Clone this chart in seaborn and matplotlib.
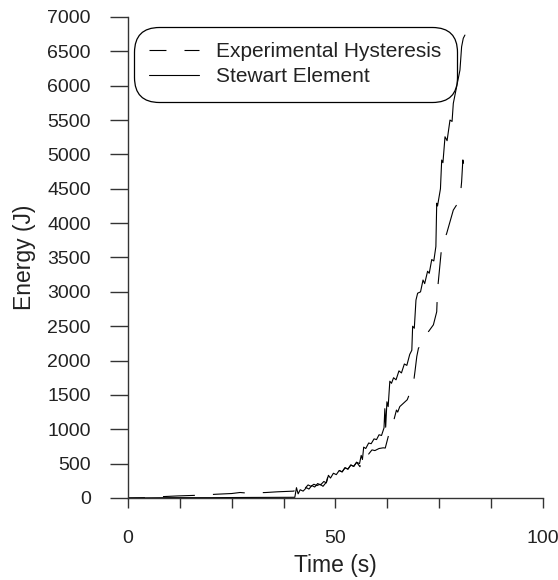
import numpy as np
import pandas as pd
import seaborn as sns
import matplotlib.pyplot as plt
from matplotlib.ticker import MultipleLocator

# Experimental Hysteresis (dashed)
exp_t = [0, 5, 8.4, 12, 17, 21.4, 25, 27, 29, 33.3, 36, 38, 40, 40.5, 41, 41.6,
         42.5, 43.4, 44.1, 44.8, 45.5, 46.3, 47, 47.8, 48.2, 48.7, 49.5, 50.2,
         50.9, 51.6, 52.3, 53, 53.7, 54.4, 55.1, 55.9, 56.5, 57.2, 58, 58.8,
         59.5, 60.5, 61.5, 62, 63, 63.5, 64.7, 65, 65.5, 67.3, 68.2, 68.9, 69.2,
         69.6, 70, 71.3, 72.4, 73.6, 74.4, 74.6, 75.6, 76.8, 78.4, 80, 80.4,
         80.7, 81.2]
exp_e = [0, 5, 20, 30, 40, 55, 65, 80, 70, 80, 90, 95, 100, 170, 110, 150,
         130, 190, 170, 200, 180, 200, 170, 230, 320, 290, 360, 340,
         400, 380, 440, 420, 480, 460, 520, 455, 600, 670, 640, 700,
         690, 720, 730, 727, 960, 1000, 1280, 1250, 1330, 1430, 1570, 1720, 1860,
         2060, 2180, 2270, 2420, 2520, 2710, 3030, 3660, 3850, 4190, 4340, 4600,
         4920, 4750]

# Stewart Element (solid)
stw_t = [0, 10, 20, 30, 40.2, 40.6, 41.0, 41.5, 42.2, 43, 43.6, 44.3, 45, 45.7,
         46.4, 47.2, 47.8, 48.3, 48.8, 49.5, 50.2, 50.9, 51.6, 52.3, 53, 53.7,
         54.4, 55.1, 55.8, 56.2, 56.5, 56.8, 57.3, 58, 58.6, 59.3, 59.9, 60.5,
         61.1, 61.7, 61.9, 62.1, 62.4, 62.7, 63.1, 63.5, 64, 64.6, 65.3, 65.9,
         66.6, 67.2, 67.9, 68.4, 68.6, 69, 69.4, 69.8, 70.5, 71.1, 71.5, 72.2,
         72.6, 73.2, 73.7, 74.2, 74.4, 74.6, 75.3, 75.6, 75.9, 76.4, 76.9, 77.6,
         78.1, 78.4, 79.2, 80, 80.4, 80.8, 81.2]
stw_e = [0, 5, 5, 8, 10, 150, 60, 120, 100, 150, 130, 180, 160, 210,
         190, 240, 220, 330, 290, 360, 340, 400, 380, 440, 420, 480,
         460, 520, 500, 620, 560, 740, 720, 800, 790, 860, 850, 920,
         910, 1020, 1300, 1030, 1400, 1330, 1700, 1669, 1750, 1720, 1850, 1820,
         1950, 1930, 2090, 2150, 2500, 2470, 2880, 2980, 3000, 3172, 3120, 3300,
         3270, 3470, 3450, 3660, 4290, 4250, 4500, 4918, 4880, 5257, 5200, 5500,
         5480, 5743, 5985, 6227, 6567, 6690, 6737]

exp_df = pd.DataFrame({"Time": exp_t, "Energy": exp_e})
stw_df = pd.DataFrame({"Time": stw_t, "Energy": stw_e})

sns.set_style("ticks")
plt.rcParams['font.family'] = ['Liberation Sans', 'DejaVu Sans']
plt.rcParams['lines.scale_dashes'] = False

fig = plt.figure(figsize=(5.58, 5.80), dpi=100)
ax = fig.add_axes([0.2294, 0.1414, 0.7436, 0.8293])

sns.lineplot(data=exp_df, x="Time", y="Energy", ax=ax, sort=False, estimator=None,
             color="black", linewidth=0.8, linestyle=(10.8, (23, 13)),
             label="Experimental Hysteresis")
sns.lineplot(data=stw_df, x="Time", y="Energy", ax=ax, sort=False, estimator=None,
             color="black", linewidth=0.8, label="Stewart Element")

ax.set_xlim(0, 100)
ax.set_ylim(0, 7000)
ax.set_xticks([0, 50, 100])
ax.xaxis.set_minor_locator(MultipleLocator(12.5))
ax.yaxis.set_major_locator(MultipleLocator(500))

for s in ["top", "right"]:
    ax.spines[s].set_visible(False)
for s in ["left", "bottom"]:
    ax.spines[s].set_color("#333333")
    ax.spines[s].set_linewidth(1.0)

tick_fs = 14
label_fs = 16.5
ax.tick_params(axis="y", direction="out", length=13, width=1.0, color="#333333",
               pad=13.7, labelsize=tick_fs, labelcolor="#222222")
ax.tick_params(axis="x", which="both", direction="out", length=7, width=1.0,
               color="#333333", pad=16, labelsize=tick_fs, labelcolor="#222222")

ax.set_xlabel("Time (s)", fontsize=label_fs, color="#222222", labelpad=5)
ax.set_ylabel("Energy (J)", fontsize=label_fs, color="#222222", labelpad=8)

leg = ax.legend(loc="upper left", bbox_to_anchor=(0.014, 0.98), borderaxespad=0,
                fontsize=15, fancybox=True, frameon=True, handlelength=2.4,
                handletextpad=0.8, labelspacing=0.3, borderpad=0.75)
frame = leg.get_frame()
frame.set_edgecolor("black")
frame.set_linewidth(0.9)
frame.set_alpha(1)
frame.set_boxstyle("round", pad=0, rounding_size=1.2)
for t in leg.get_texts():
    t.set_color("#222222")

fig.savefig("out.png", dpi=100)
